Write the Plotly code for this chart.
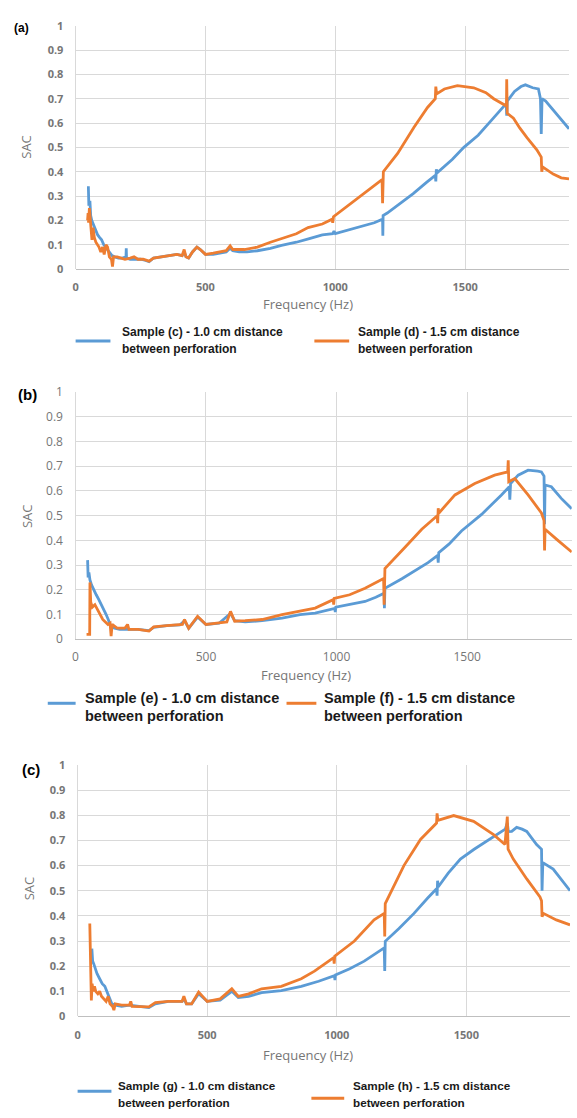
import plotly.graph_objects as go

# ---------------- data ----------------
# Panel (a)
a_blue_f = [49, 51, 55, 58, 62, 66, 72, 78, 85, 92, 100, 108, 115, 122, 130, 140, 150, 165, 180, 194, 195, 196, 210, 230, 250, 270, 283, 300, 330, 360, 390, 410, 418, 425, 435, 450, 467, 480, 500, 530, 560, 580, 595, 605, 630, 660, 700, 750, 793, 850, 900, 950, 990, 995, 1000, 1050, 1100, 1150, 1182, 1183, 1184, 1200, 1250, 1300, 1350, 1385, 1387, 1389, 1392, 1450, 1495, 1550, 1600, 1640, 1658, 1660, 1662, 1690, 1715, 1732, 1760, 1782, 1790, 1793, 1796, 1810, 1850, 1900]
a_blue_v = [0.34, 0.26, 0.28, 0.22, 0.20, 0.19, 0.17, 0.16, 0.14, 0.13, 0.12, 0.10, 0.09, 0.08, 0.065, 0.055, 0.05, 0.045, 0.045, 0.05, 0.085, 0.045, 0.04, 0.04, 0.04, 0.035, 0.03, 0.045, 0.05, 0.055, 0.06, 0.055, 0.07, 0.05, 0.045, 0.07, 0.09, 0.08, 0.06, 0.06, 0.065, 0.07, 0.085, 0.075, 0.07, 0.07, 0.075, 0.085, 0.097, 0.11, 0.125, 0.14, 0.145, 0.155, 0.145, 0.16, 0.175, 0.19, 0.205, 0.137, 0.22, 0.23, 0.27, 0.31, 0.355, 0.385, 0.36, 0.41, 0.395, 0.45, 0.50, 0.55, 0.61, 0.66, 0.68, 0.63, 0.69, 0.73, 0.75, 0.757, 0.745, 0.74, 0.70, 0.555, 0.70, 0.69, 0.64, 0.576]
a_orange_f = [46, 48, 50, 53, 56, 60, 63, 67, 72, 78, 84, 90, 97, 104, 110, 117, 123, 130, 138, 142, 146, 160, 175, 190, 210, 225, 240, 260, 283, 300, 330, 360, 390, 410, 418, 425, 435, 450, 467, 480, 500, 530, 560, 580, 595, 605, 650, 700, 750, 793, 850, 895, 950, 988, 990, 993, 1048, 1112, 1150, 1180, 1182, 1185, 1240, 1303, 1355, 1385, 1387, 1390, 1420, 1470, 1533, 1580, 1610, 1640, 1659, 1660, 1662, 1686, 1710, 1738, 1776, 1793, 1795, 1798, 1839, 1870, 1900]
a_orange_v = [0.20, 0.23, 0.19, 0.25, 0.21, 0.15, 0.12, 0.17, 0.13, 0.11, 0.10, 0.09, 0.07, 0.09, 0.06, 0.10, 0.09, 0.05, 0.04, 0.01, 0.05, 0.05, 0.045, 0.04, 0.045, 0.05, 0.04, 0.04, 0.032, 0.045, 0.05, 0.055, 0.06, 0.055, 0.08, 0.05, 0.045, 0.07, 0.09, 0.08, 0.06, 0.065, 0.07, 0.075, 0.095, 0.08, 0.08, 0.09, 0.11, 0.125, 0.145, 0.17, 0.185, 0.205, 0.19, 0.215, 0.26, 0.31, 0.34, 0.367, 0.27, 0.40, 0.475, 0.583, 0.664, 0.70, 0.75, 0.72, 0.74, 0.754, 0.745, 0.725, 0.70, 0.68, 0.67, 0.78, 0.64, 0.62, 0.58, 0.54, 0.49, 0.46, 0.40, 0.42, 0.39, 0.375, 0.37]

# Panel (b)
b_blue_f = [47, 49, 52, 56, 62, 70, 80, 90, 100, 110, 118, 126, 133, 140, 150, 170, 200, 240, 282, 300, 350, 400, 418, 434, 468, 500, 550, 594, 610, 650, 715, 791, 860, 918, 993, 995, 997, 1050, 1109, 1150, 1182, 1183, 1185, 1250, 1300, 1350, 1387, 1389, 1391, 1430, 1478, 1555, 1631, 1661, 1663, 1666, 1695, 1733, 1770, 1784, 1794, 1796, 1798, 1822, 1860, 1900]
b_blue_v = [0.32, 0.25, 0.27, 0.24, 0.22, 0.20, 0.18, 0.16, 0.14, 0.12, 0.10, 0.08, 0.06, 0.05, 0.045, 0.04, 0.04, 0.04, 0.035, 0.048, 0.055, 0.058, 0.075, 0.045, 0.09, 0.06, 0.065, 0.105, 0.075, 0.07, 0.075, 0.086, 0.10, 0.106, 0.125, 0.11, 0.13, 0.14, 0.153, 0.17, 0.186, 0.126, 0.206, 0.245, 0.279, 0.31, 0.339, 0.31, 0.35, 0.385, 0.438, 0.505, 0.584, 0.617, 0.565, 0.63, 0.664, 0.684, 0.68, 0.677, 0.66, 0.465, 0.624, 0.617, 0.57, 0.528]
b_orange_f = [43, 55, 56, 59, 65, 75, 85, 95, 105, 115, 125, 133, 137, 141, 160, 190, 200, 205, 240, 282, 300, 350, 410, 418, 434, 468, 500, 550, 580, 594, 610, 650, 715, 791, 860, 918, 987, 989, 991, 1050, 1109, 1180, 1182, 1185, 1262, 1326, 1385, 1387, 1389, 1391, 1453, 1529, 1605, 1655, 1657, 1659, 1682, 1733, 1784, 1794, 1796, 1798, 1847, 1900]
b_orange_v = [0.02, 0.02, 0.23, 0.15, 0.13, 0.14, 0.12, 0.10, 0.08, 0.07, 0.06, 0.065, 0.013, 0.06, 0.045, 0.045, 0.06, 0.04, 0.04, 0.033, 0.05, 0.055, 0.06, 0.08, 0.044, 0.093, 0.06, 0.066, 0.07, 0.113, 0.073, 0.075, 0.08, 0.10, 0.115, 0.126, 0.16, 0.14, 0.165, 0.18, 0.206, 0.246, 0.14, 0.286, 0.372, 0.445, 0.50, 0.47, 0.53, 0.51, 0.584, 0.63, 0.664, 0.677, 0.724, 0.637, 0.65, 0.584, 0.511, 0.48, 0.359, 0.445, 0.40, 0.353]

# Panel (c)
c_blue_f = [55, 58, 62, 68, 75, 85, 95, 105, 112, 118, 125, 132, 145, 170, 200, 240, 275, 300, 350, 403, 410, 420, 440, 467, 500, 550, 595, 620, 660, 710, 786, 863, 930, 991, 993, 995, 1050, 1106, 1150, 1183, 1185, 1187, 1240, 1298, 1350, 1385, 1387, 1389, 1391, 1430, 1477, 1530, 1579, 1620, 1650, 1658, 1662, 1675, 1694, 1715, 1733, 1771, 1790, 1792, 1795, 1835, 1870, 1900]
c_blue_v = [0.27, 0.22, 0.21, 0.19, 0.17, 0.15, 0.13, 0.12, 0.10, 0.09, 0.064, 0.05, 0.045, 0.04, 0.045, 0.04, 0.035, 0.05, 0.06, 0.06, 0.07, 0.05, 0.05, 0.09, 0.06, 0.065, 0.10, 0.075, 0.08, 0.095, 0.103, 0.12, 0.14, 0.162, 0.145, 0.165, 0.19, 0.22, 0.25, 0.273, 0.181, 0.299, 0.35, 0.41, 0.47, 0.508, 0.48, 0.54, 0.515, 0.57, 0.626, 0.665, 0.697, 0.725, 0.745, 0.77, 0.735, 0.736, 0.752, 0.745, 0.736, 0.684, 0.665, 0.50, 0.612, 0.586, 0.54, 0.50]
c_orange_f = [47, 50, 53, 56, 60, 65, 70, 78, 85, 92, 100, 110, 118, 125, 135, 140, 145, 170, 200, 205, 210, 240, 275, 300, 350, 403, 410, 420, 440, 467, 500, 550, 595, 620, 660, 710, 786, 863, 914, 988, 990, 992, 1068, 1144, 1183, 1185, 1187, 1259, 1323, 1385, 1387, 1390, 1451, 1528, 1605, 1649, 1658, 1661, 1681, 1733, 1784, 1790, 1792, 1797, 1847, 1900]
c_orange_v = [0.37, 0.25, 0.064, 0.13, 0.10, 0.12, 0.10, 0.09, 0.10, 0.08, 0.07, 0.06, 0.08, 0.05, 0.04, 0.025, 0.05, 0.045, 0.045, 0.06, 0.04, 0.04, 0.038, 0.055, 0.06, 0.06, 0.08, 0.05, 0.05, 0.097, 0.06, 0.07, 0.11, 0.08, 0.09, 0.11, 0.12, 0.15, 0.18, 0.234, 0.21, 0.24, 0.30, 0.384, 0.41, 0.318, 0.449, 0.60, 0.704, 0.769, 0.808, 0.78, 0.799, 0.776, 0.723, 0.684, 0.795, 0.665, 0.626, 0.547, 0.475, 0.46, 0.397, 0.41, 0.384, 0.364]

panel_labels = ["(a)", "(b)", "(c)"]
legend_blue = ["Sample (c) - 1.0 cm distance", "Sample (e) - 1.0 cm distance", "Sample (g) - 1.0 cm distance"]
legend_orange = ["Sample (d) - 1.5 cm distance", "Sample (f) - 1.5 cm distance", "Sample (h) - 1.5 cm distance"]
legend_line2 = "between perforation"
x_ticks = [0, 500, 1000, 1500]
y_ticks = [0, 0.1, 0.2, 0.3, 0.4, 0.5, 0.6, 0.7, 0.8, 0.9, 1]
x_title = "Frequency (Hz)"
y_title = "SAC"

BLUE = "#5B9BD5"
ORANGE = "#ED7D31"
GRID = "#d9d9d9"
TXT = "#767676"

W, H = 577, 1118
def fx(px): return px / W
def fy(py): return 1 - py / H

# pixel geometry for each panel: (left, right, top, bottom)
geo = [(73, 569, 17, 264), (72.7, 571.7, 389, 640), (75, 570, 767.7, 1023)]
tick_font = [dict(family="Open Sans", size=11, color=TXT, weight="bold"),
             dict(family="Open Sans", size=12, color=TXT),
             dict(family="Open Sans", size=11, color=TXT, weight="bold")]
x_ticklen = [8, 6, 8]

fig = go.Figure()
series = [(a_blue_f, a_blue_v, a_orange_f, a_orange_v),
          (b_blue_f, b_blue_v, b_orange_f, b_orange_v),
          (c_blue_f, c_blue_v, c_orange_f, c_orange_v)]

layout = dict(width=W, height=H, margin=dict(l=0, r=0, t=0, b=0),
              paper_bgcolor="white", plot_bgcolor="white", showlegend=False)
annotations = []
shapes = []

for i, (bf, bv, of, ov) in enumerate(series):
    n = "" if i == 0 else str(i + 1)
    xa, ya = "x" + n, "y" + n
    fig.add_trace(go.Scatter(x=bf, y=bv, mode="lines", line=dict(color=BLUE, width=2.8),
                             xaxis=xa, yaxis=ya, name=legend_blue[i]))
    fig.add_trace(go.Scatter(x=of, y=ov, mode="lines", line=dict(color=ORANGE, width=2.8),
                             xaxis=xa, yaxis=ya, name=legend_orange[i]))
    l, r, t, b = geo[i]
    layout["xaxis" + n] = dict(domain=[fx(l), fx(r)], range=[0, 1900], anchor=ya,
                               tickvals=x_ticks, showgrid=True, gridcolor=GRID, gridwidth=1,
                               zeroline=True, zerolinecolor=GRID, zerolinewidth=1,
                               showline=True, linecolor="#bfbfbf", linewidth=1,
                               ticks="outside", ticklen=x_ticklen[i], tickcolor="rgba(0,0,0,0)",
                               tickfont=tick_font[i], fixedrange=True)
    layout["yaxis" + n] = dict(domain=[fy(b), fy(t)], range=[0, 1], anchor=xa,
                               tickvals=y_ticks, ticktext=[("%g" % v) for v in y_ticks],
                               showgrid=True, gridcolor=GRID, gridwidth=1,
                               zeroline=False, showline=False,
                               ticks="outside", ticklen=9, tickcolor="rgba(0,0,0,0)",
                               tickfont=tick_font[i], fixedrange=True)

# panel labels
for (lbl, x, y, s) in zip(panel_labels, [19, 25, 28], [19, 391, 772], [12, 15, 15]):
    annotations.append(dict(text="<b>%s</b>" % lbl, x=fx(x), y=fy(y), xref="paper", yref="paper",
                            xanchor="center", yanchor="middle",
                            showarrow=False, font=dict(family="Liberation Sans", size=s, color="black")))
# y titles
for (x, y) in zip([23, 24, 27], [140, 515, 893]):
    annotations.append(dict(text=y_title, x=fx(x), y=fy(y), xref="paper", yref="paper", textangle=-90,
                            xanchor="center", yanchor="middle",
                            showarrow=False, font=dict(family="Open Sans", size=13, color=TXT)))
# x titles
for (x, y) in zip([307, 305, 307], [300, 676, 1062]):
    annotations.append(dict(text=x_title, x=fx(x), y=fy(y), xref="paper", yref="paper",
                            xanchor="center", yanchor="middle",
                            showarrow=False, font=dict(family="Open Sans", size=13, color=TXT)))

# legends: (line x0, x1, y, text x, text y1, y2, font size)
leg = [
    [(73, 108, 337, 119, 328, 345, 12), (313, 348, 337, 356, 328, 345, 12)],
    [(45, 73, 705, 81, 700, 718, 14.5), (285, 315, 705, 322, 700, 718, 14.5)],
    [(75, 109, 1099, 115, 1093, 1110, 11.7), (310, 343, 1106, 351, 1093, 1110, 11.7)],
]
for i in range(3):
    for j, (x0, x1, ly, tx, ty1, ty2, fs) in enumerate(leg[i]):
        col = BLUE if j == 0 else ORANGE
        shapes.append(dict(type="line", xref="paper", yref="paper", x0=fx(x0), x1=fx(x1),
                           y0=fy(ly), y1=fy(ly), line=dict(color=col, width=3)))
        txt = legend_blue[i] if j == 0 else legend_orange[i]
        for (tt, yy) in [(txt, ty1), (legend_line2, ty2)]:
            annotations.append(dict(text="<b>%s</b>" % tt, x=fx(tx), y=fy(yy), xref="paper", yref="paper",
                                    xanchor="left", yanchor="middle", showarrow=False, borderpad=0,
                                    font=dict(family="Liberation Sans", size=fs, color="#1a1a1a")))

layout["annotations"] = annotations
layout["shapes"] = shapes
fig.update_layout(**layout)
post = (
    "document.documentElement.style.margin='0';document.documentElement.style.padding='0';"
    "document.body.style.margin='0';document.body.style.padding='0';"
    "document.documentElement.style.overflow='hidden';document.body.style.overflow='hidden';"
    "var gd=document.getElementById('{plot_id}');"
    "gd.style.position='fixed';gd.style.top='0px';gd.style.left='0px';"
)
fig.write_html("out.html", config={"displayModeBar": False}, post_script=post)
